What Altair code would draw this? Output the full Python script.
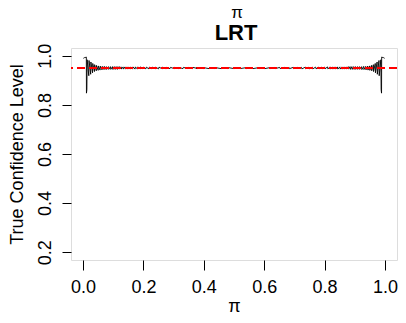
import altair as alt
import pandas as pd

# values (coverage of the LRT interval vs pi)
pi_left = [0.001, 0.005, 0.0095, 0.0108, 0.0112, 0.0125, 0.0135,
           0.0190, 0.0197, 0.0252, 0.0259, 0.0314, 0.0321, 0.0376, 0.0383, 0.0438,
           0.0445, 0.0500, 0.0507, 0.0562, 0.0570, 0.0628, 0.0636, 0.0695, 0.0703,
           0.0765, 0.0773, 0.0835, 0.0843, 0.0900, 0.0908, 0.0965, 0.0975, 0.1020,
           0.1035, 0.1080, 0.1095, 0.1140, 0.1155, 0.1200, 0.1215, 0.1270, 0.1285, 0.1340,
           0.1355, 0.1410, 0.1425, 0.1480, 0.1495, 0.1560, 0.1575, 0.1640, 0.1655, 0.1720,
           0.1735, 0.1800, 0.1815, 0.1890, 0.1905, 0.1980, 0.1995, 0.2080, 0.2095, 0.2180,
           0.2195, 0.2280, 0.2295, 0.2390, 0.2405, 0.2500, 0.2515, 0.2620, 0.2635, 0.2750,
           0.2765, 0.2880, 0.2895, 0.3020, 0.3035, 0.3160, 0.3175, 0.3310, 0.3325, 0.3470,
           0.3485, 0.3630, 0.3645, 0.3800, 0.3815, 0.3980, 0.3995, 0.4170, 0.4185, 0.4370,
           0.4385, 0.4580, 0.4595, 0.4800, 0.4815, 0.5000]
cov_left = [0.990, 0.993, 0.994, 0.995, 0.848, 0.862, 0.984,
            0.919, 0.981, 0.925, 0.975, 0.931, 0.969, 0.936, 0.964, 0.939,
            0.961, 0.941, 0.959, 0.942, 0.958, 0.943, 0.957, 0.944, 0.957,
            0.944, 0.956, 0.945, 0.956, 0.945, 0.956, 0.945, 0.956, 0.945,
            0.956, 0.945, 0.956, 0.945, 0.956, 0.946, 0.956, 0.946, 0.955, 0.946,
            0.955, 0.946, 0.955, 0.946, 0.955, 0.946, 0.955, 0.946, 0.955, 0.946,
            0.955, 0.946, 0.955, 0.947, 0.955, 0.947, 0.954, 0.947, 0.954, 0.947,
            0.954, 0.947, 0.954, 0.947, 0.954, 0.947, 0.954, 0.947, 0.954, 0.947,
            0.953, 0.948, 0.953, 0.948, 0.953, 0.948, 0.953, 0.948, 0.953, 0.948,
            0.953, 0.948, 0.953, 0.948, 0.952, 0.948, 0.952, 0.948, 0.952, 0.948,
            0.952, 0.948, 0.952, 0.948, 0.952, 0.948]

pi_right = [0.5185, 0.5200, 0.5405, 0.5420, 0.5615, 0.5630, 0.5815, 0.5830, 0.6005, 0.6020,
            0.6185, 0.6200, 0.6355, 0.6370, 0.6515, 0.6530, 0.6675, 0.6690, 0.6825, 0.6840,
            0.6965, 0.6980, 0.7105, 0.7120, 0.7235, 0.7250, 0.7365, 0.7380, 0.7485, 0.7500,
            0.7595, 0.7610, 0.7705, 0.7720, 0.7805, 0.7820, 0.7905, 0.7920, 0.8005, 0.8020,
            0.8095, 0.8110, 0.8185, 0.8200, 0.8265, 0.8280, 0.8345, 0.8360, 0.8425, 0.8440,
            0.8505, 0.8520, 0.8575, 0.8590, 0.8645, 0.8660, 0.8715, 0.8730, 0.8785, 0.8800,
            0.8845, 0.8860, 0.8905, 0.8920, 0.8965, 0.8980,
            0.9025, 0.9035, 0.9092, 0.9100, 0.9157, 0.9165, 0.9227, 0.9235, 0.9297, 0.9305,
            0.9364, 0.9372, 0.9430, 0.9438, 0.9493, 0.9500, 0.9555, 0.9562, 0.9617, 0.9624,
            0.9679, 0.9686, 0.9741, 0.9748, 0.9803, 0.9810, 0.9865, 0.9875, 0.9888, 0.9892,
            0.9905, 0.9950, 0.9990]
cov_right = [0.952, 0.948, 0.952, 0.948, 0.952, 0.948, 0.952, 0.948, 0.952, 0.948,
             0.952, 0.948, 0.953, 0.948, 0.953, 0.948, 0.953, 0.948, 0.953, 0.948,
             0.953, 0.948, 0.953, 0.948, 0.953, 0.947, 0.954, 0.947, 0.954, 0.947,
             0.954, 0.947, 0.954, 0.947, 0.954, 0.947, 0.954, 0.947, 0.954, 0.947,
             0.955, 0.947, 0.955, 0.946, 0.955, 0.946, 0.955, 0.946, 0.955, 0.946,
             0.955, 0.946, 0.955, 0.946, 0.955, 0.946, 0.955, 0.946, 0.956, 0.946,
             0.956, 0.945, 0.956, 0.945, 0.956, 0.945,
             0.956, 0.945, 0.956, 0.945, 0.956, 0.945, 0.956, 0.944, 0.957, 0.944,
             0.957, 0.943, 0.958, 0.942, 0.959, 0.941, 0.961, 0.939, 0.964, 0.936,
             0.969, 0.931, 0.975, 0.925, 0.981, 0.919, 0.984, 0.862, 0.848, 0.995,
             0.994, 0.993, 0.990]

x_ticks = [0.0, 0.2, 0.4, 0.6, 0.8, 1.0]
y_ticks = [0.2, 0.4, 0.6, 0.8, 1.0]
alpha_level = 0.95
title_lines = ["π", "LRT"]

df = pd.DataFrame({"pi": pi_left + pi_right, "cov": cov_left + cov_right})
tdf = pd.DataFrame({"t": title_lines})

FONT = "Liberation Sans"
W, H = 326, 212

x_axis = alt.Axis(values=x_ticks, format=".1f", grid=False, domain=False,
                  tickColor="black", tickSize=10, tickWidth=1,
                  labelFont=FONT, labelFontSize=18, labelColor="black",
                  labelBaseline="middle", labelPadding=17,
                  title="π", titleFont=FONT, titleFontSize=18, titleFontWeight="normal",
                  titleColor="black", titleY=46, titleBaseline="middle")
y_axis = alt.Axis(values=y_ticks, format=".1f", grid=False, domain=False,
                  tickColor="black", tickSize=9, tickWidth=1,
                  labelFont=FONT, labelFontSize=18, labelColor="black", labelAngle=-90,
                  labelBaseline="middle", labelAlign="center", labelPadding=17,
                  title="True Confidence Level", titleFont=FONT, titleFontSize=18,
                  titleFontWeight="normal", titleColor="black", titleX=-54,
                  titleBaseline="middle")

xs = alt.Scale(domain=[-0.04, 1.04], nice=False, zero=False)
ys = alt.Scale(domain=[0.168, 1.032], nice=False, zero=False)

line = alt.Chart(df).mark_line(color="black", strokeWidth=0.9).encode(
    x=alt.X("pi:Q", scale=xs, axis=x_axis),
    y=alt.Y("cov:Q", scale=ys, axis=y_axis),
)

rule = alt.Chart(df).mark_rule(color="red", strokeDash=[8, 4], strokeWidth=1).encode(
    y=alt.datum(alpha_level),
)

t_top = alt.Chart(tdf).transform_filter(alt.datum.t == title_lines[0]).mark_text(
    font=FONT, fontSize=17, color="black", baseline="alphabetic", align="center"
).encode(text="t:N", x=alt.value(166), y=alt.value(-30))

t_main = alt.Chart(tdf).transform_filter(alt.datum.t == title_lines[1]).mark_text(
    font=FONT, fontSize=22, fontWeight="bold", color="black", baseline="alphabetic",
    align="center"
).encode(text="t:N", x=alt.value(165), y=alt.value(-8))

chart = alt.layer(line, rule, t_top, t_main).properties(
    width=W, height=H,
    autosize=alt.AutoSizeParams(type="none"),
    padding={"left": 63, "top": 40, "right": 1, "bottom": 55},
).configure_view(stroke="black", strokeWidth=1).configure(background="white")

chart.save("out.html", embed_options={"renderer": "svg", "actions": False})
